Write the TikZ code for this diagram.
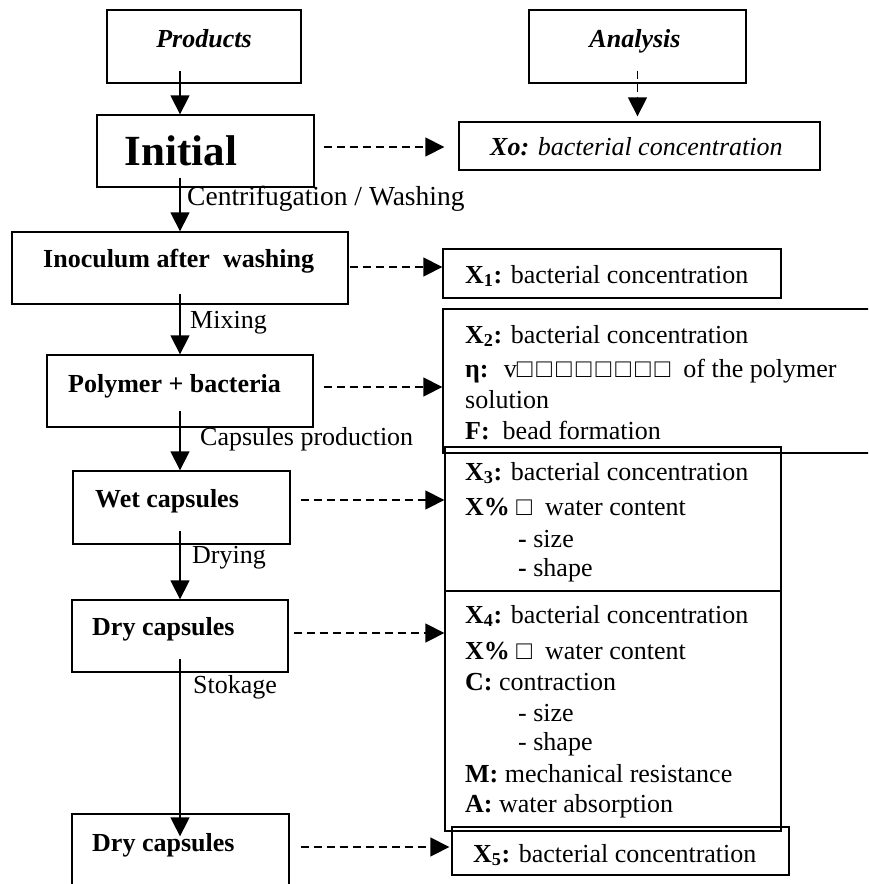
\documentclass[tikz,border=0pt]{standalone}
\usepackage{fontspec}
\setmainfont{Liberation Serif}
\usetikzlibrary{arrows.meta,calc}
\tikzset{
  box/.style={draw, line width=1.3pt, rectangle, inner sep=0pt},
  flow/.style={-{Triangle[width=19pt,length=19pt]}, line width=1.3pt},
  dflow/.style={flow, dash pattern=on 8pt off 5pt},
  lbl/.style={inner sep=0pt, anchor=base west, font=\fontsize{26}{31}\selectfont},
  blbl/.style={lbl, font=\fontsize{26}{31}\selectfont\bfseries},
  hdr/.style={inner sep=0pt, anchor=base, font=\fontsize{26}{31}\selectfont\bfseries\itshape}
}
\newcommand{\sq}{□}
\begin{document}
\begin{tikzpicture}[x=1pt,y=-1pt]
\useasboundingbox (0,0) rectangle (868,884);
\clip (0,0) rectangle (868,884);
\coordinate (spine) at (180,0);
% left column boxes
\node[box, minimum width=194pt, minimum height=73pt] (prod) at (204,46.5) {};
\node[box, minimum width=217pt, minimum height=72pt] (init) at (205.5,151) {};
\node[box, minimum width=336pt, minimum height=72pt] (inoc) at (180,268) {};
\node[box, minimum width=266pt, minimum height=72pt] (poly) at (180,391) {};
\node[box, minimum width=217pt, minimum height=73pt] (wet) at (181.5,507.5) {};
\node[box, minimum width=216pt, minimum height=72pt] (dry1) at (180,636) {};
\node[box, minimum width=217pt, minimum height=86pt] (dry2) at (180.5,857) {};
% right column boxes
\node[box, minimum width=217pt, minimum height=73pt] (anal) at (637.5,46.5) {};
\node[box, minimum width=361pt, minimum height=48pt] (xo) at (639.5,146) {};
\node[box, minimum width=338pt, minimum height=49pt] (x1) at (612,273.5) {};
\node[box, minimum width=457pt, minimum height=144pt] (x2) at (671.5,381) {};
\node[box, minimum width=336pt, minimum height=144pt] (x3) at (613,519) {};
\node[box, minimum width=336pt, minimum height=240pt] (x4) at (613,711) {};
\node[box, minimum width=337pt, minimum height=48pt] (x5) at (620.5,851) {};
% left texts
\node[hdr] (tprod) at (204,47) {Products};
\node[hdr] (tanal) at (635,47) {Analysis};
\node[inner sep=0pt, anchor=base, font=\fontsize{43}{50}\selectfont\bfseries] (tinit) at (181,165) {Initial};
\node[lbl, font=\fontsize{27.5}{31}\selectfont] (tcent) at (187,205) {Centrifugation / Washing};
\node[blbl] (tinoc) at (43,267) {Inoculum after~ washing};
\node[lbl] (tmix) at (190,328) {Mixing};
\node[blbl] (tpoly) at (68,392) {Polymer + bacteria};
\node[lbl] (tcaps) at (200,445) {Capsules production};
\node[blbl] (twet) at (95,507) {Wet capsules};
\node[lbl] (tdry) at (192,563) {Drying};
\node[blbl] (tdry1) at (92,635) {Dry capsules};
\node[lbl] (tstok) at (193,693) {Stokage};
\node[blbl] (tdry2) at (92,851) {Dry capsules};
% right texts
\node[lbl, font=\fontsize{26}{31}\selectfont\itshape] (txo) at (490,155) {\textbf{Xo:} bacterial concentration};
\node[lbl] (tx1) at (465,283) {\textbf{X\textsubscript{1}:} bacterial concentration};
\node[lbl] (tx2a) at (465,343) {\textbf{X\textsubscript{2}:} bacterial concentration};
\node[lbl] (tx2b) at (465,377) {\textbf{η:}~ v\sq\kern4pt\sq\kern4pt\sq\kern4pt\sq\kern4pt\sq\kern4pt\sq\kern4pt\sq\kern4pt\sq\ \ of the polymer};
\node[lbl] (tx2c) at (465,408) {solution};
\node[lbl] (tx2d) at (465,439) {\textbf{F:}~ bead formation};
\node[lbl] (tx3a) at (465,480) {\textbf{X\textsubscript{3}:} bacterial concentration};
\node[lbl] (tx3b) at (465,515) {\textbf{X\%} \sq~ water content};
\node[lbl] (tx3c) at (518,547) {\textbf{-} size};
\node[lbl] (tx3d) at (518,576) {\textbf{-} shape};
\node[lbl] (tx4a) at (465,623) {\textbf{X\textsubscript{4}:} bacterial concentration};
\node[lbl] (tx4b) at (465,659) {\textbf{X\%} \sq~ water content};
\node[lbl] (tx4c) at (465,690) {\textbf{C:} contraction};
\node[lbl] (tx4d) at (518,721) {- size};
\node[lbl] (tx4e) at (518,750) {- shape};
\node[lbl] (tx4f) at (465,782) {\textbf{M:} mechanical resistance};
\node[lbl] (tx4g) at (465,812) {\textbf{A:} water absorption};
\node[lbl] (tx5) at (473,862) {\textbf{X\textsubscript{5}:} bacterial concentration};
% solid flow arrows
\draw[flow] ($(prod.south -| spine)+(0,-13)$) -- (init.north -| spine);
\draw[flow] ($(init.south -| spine)+(0,-10)$) -- (inoc.north -| spine);
\draw[flow] ($(inoc.south -| spine)+(0,-11)$) -- (poly.north -| spine);
\draw[flow] ($(poly.south -| spine)+(0,-17)$) -- (wet.north -| spine);
\draw[flow] ($(wet.south -| spine)+(0,-14)$) -- (dry1.north -| spine);
\draw[flow] ($(dry1.south -| spine)+(0,-14)$) -- ($(dry2.north -| spine)+(0,23)$);
% dashed arrows
\coordinate (d0) at ($(init.east)+(9,-4)$);
\draw[dflow] (d0) -- ($(xo.west |- d0)+(-14,0)$);
\draw[dflow] ($(anal.south)+(0,-13)$) -- ($(xo.north -| anal.south)+(0,-5)$);
\coordinate (d1) at ($(inoc.east)+(1,-1)$);
\draw[dflow] (d1) -- (x1.west |- d1);
\coordinate (d2) at ($(poly.east)+(10,-4)$);
\draw[dflow] (d2) -- (x2.west |- d2);
\coordinate (d3) at ($(wet.east)+(10,-7.5)$);
\draw[dflow] (d3) -- (x3.west |- d3);
\coordinate (d4) at ($(dry1.east)+(5,-3)$);
\draw[dflow] (d4) -- (x4.west |- d4);
\coordinate (d5) at ($(dry2.east)+(11,-10)$);
\draw[dflow] (d5) -- ($(x5.west |- d5)+(-2,0)$);
\end{tikzpicture}
\end{document}
